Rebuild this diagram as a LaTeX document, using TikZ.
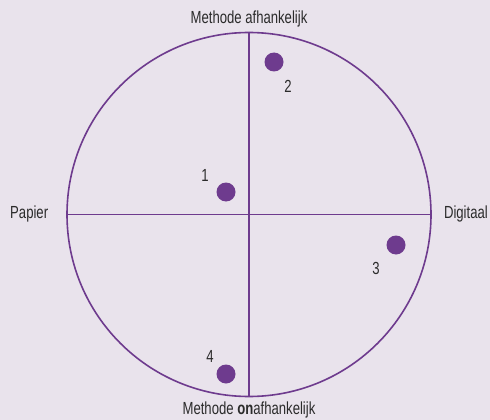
\documentclass[tikz,border=0pt]{standalone}
\usepackage{fontspec}
\setmainfont[FakeStretch=0.75]{Liberation Sans}
\definecolor{paars}{HTML}{6E3B8E}
\definecolor{achter}{HTML}{E9E3EC}
\definecolor{tekst}{HTML}{2B2B2B}
\tikzset{
  stip/.style={circle,fill=paars,inner sep=0pt,minimum size=19pt},
  lbl/.style={text=tekst,font=\fontsize{17.5}{20}\selectfont,inner sep=0pt}
}
\begin{document}
\begin{tikzpicture}[x=1pt,y=-1pt]
  \fill[achter] (0,0) rectangle (490,420);
  \useasboundingbox (0,0) rectangle (490,420);
  \node[circle,draw=paars,line width=1.6pt,minimum size=364pt,inner sep=0pt] (kwadr) at (249,214.5) {};
  \draw[paars,line width=1.6pt] (kwadr.north) -- (kwadr.south);
  \draw[paars,line width=1.6pt] (kwadr.west) -- (kwadr.east);
  % assen
  \node[lbl] (boven) at (249,19) {Methode afhankelijk};
  \node[lbl] (onder) at (249,410) {Methode \textbf{on}afhankelijk};
  \node[lbl,anchor=west] (links) at (10,214) {Papier};
  \node[lbl,anchor=east] (rechts) at (488,214) {Digitaal};
  % punten
  \foreach \i/\x/\y/\lx/\ly in {1/226/192/205/175, 2/274/62/288/86, 3/396/245/376/268, 4/226/374/210/356} {
    \node[stip] (d\i) at (\x,\y) {};
    \node[lbl] (n\i) at (\lx,\ly) {\i};
  }
\end{tikzpicture}
\end{document}
